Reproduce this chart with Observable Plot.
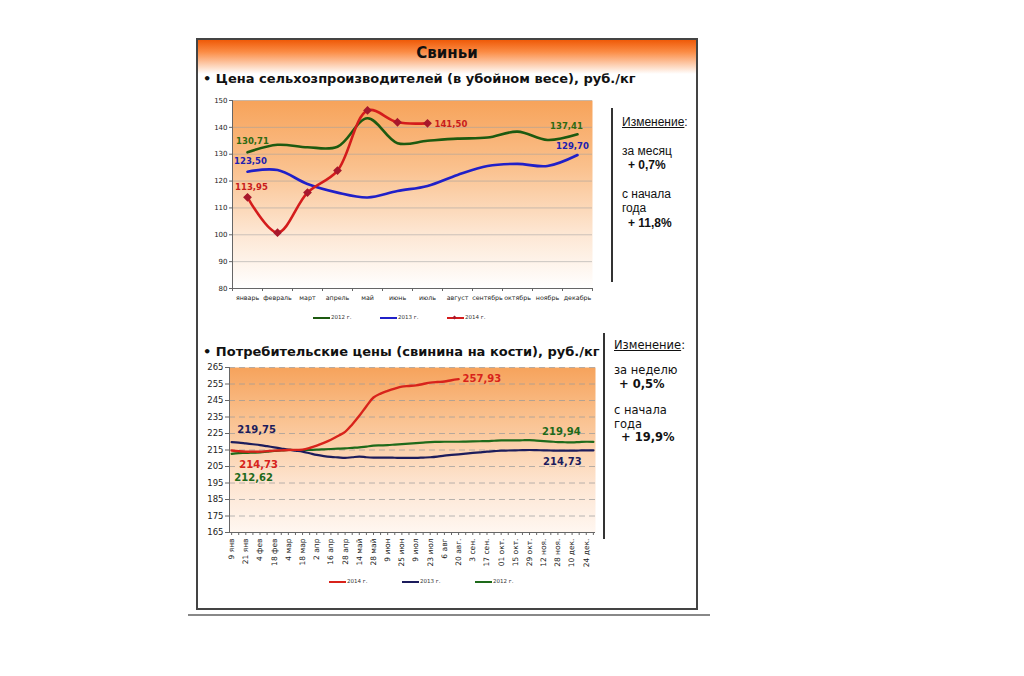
<!DOCTYPE html>
<html><head><meta charset="utf-8">
<script src="https://cdn.jsdelivr.net/npm/d3@7"></script>
<script src="https://cdn.jsdelivr.net/npm/@observablehq/plot@0.6"></script>
<style>
body{margin:0;background:#fff;width:1024px;height:676px;position:relative;overflow:hidden;font-family:"DejaVu Sans",sans-serif;color:#111;}
.abs{position:absolute;white-space:nowrap;}
#frame{left:196px;top:38px;width:502px;height:572px;border:2px solid #444;box-sizing:border-box;}
#hdr{left:198px;top:40px;width:498px;height:34px;background:linear-gradient(#ef5a08,#fb8c45 35%,#fff 100%);}
#title{left:198px;width:498px;top:44px;text-align:center;font-weight:bold;font-size:15px;}
.h{left:203px;font-weight:bold;font-size:13px;}
#bline{left:188px;top:614px;width:522px;height:2px;background:#888;}
.vl{width:2px;background:#333;}
.p1{font-family:"Liberation Sans",Arial,sans-serif;font-size:12px;}
.p2{font-family:"DejaVu Sans",sans-serif;font-size:11.5px;}
.leg{font-size:5.5px;font-family:"DejaVu Sans",sans-serif;color:#333;}
.lg{height:2px;}
</style></head>
<body>
<div id="frame" class="abs"></div>
<div id="hdr" class="abs"></div>
<div id="title" class="abs">Свиньи</div>
<div class="abs h" style="top:71px">• Цена сельхозпроизводителей (в убойном весе), руб./кг</div>
<div class="abs h" style="top:344px">• Потребительские цены (свинина на кости), руб./кг</div>
<div id="bline" class="abs"></div>

<div id="c1" class="abs" style="left:200px;top:92px"></div>
<div id="c2" class="abs" style="left:200px;top:358px"></div>

<div class="abs vl" style="left:611px;top:108px;height:174px"></div>
<div class="abs p1" style="left:622px;top:115px"><u>Изменение</u>:</div>
<div class="abs p1" style="left:622px;top:144px">за месяц</div>
<div class="abs p1" style="left:628px;top:158px;font-weight:bold">+ 0,7%</div>
<div class="abs p1" style="left:622px;top:187px">с начала</div>
<div class="abs p1" style="left:622px;top:201px">года</div>
<div class="abs p1" style="left:628px;top:216px;font-weight:bold">+ 11,8%</div>

<div class="abs vl" style="left:603px;top:333px;height:206px"></div>
<div class="abs p2" style="left:614px;top:338px"><u>Изменение</u>:</div>
<div class="abs p2" style="left:614px;top:363px">за неделю</div>
<div class="abs p2" style="left:619px;top:377px;font-weight:bold">+ 0,5%</div>
<div class="abs p2" style="left:614px;top:403px">с начала</div>
<div class="abs p2" style="left:614px;top:417px">года</div>
<div class="abs p2" style="left:621px;top:430px;font-weight:bold">+ 19,9%</div>

<div id="leg1"></div>
<div id="leg2"></div>

<script>
// ---------- Chart 1 data ----------
const months = ["январь","февраль","март","апрель","май","июнь","июль","август","сентябрь","октябрь","ноябрь","декабрь"];
const prod2012 = [130.71,133.5,132.6,132.8,143.4,134.1,135.0,135.8,136.2,138.4,135.3,137.41];
const prod2013 = [123.50,124.1,118.9,115.7,113.9,116.3,118.2,122.3,125.6,126.4,125.6,129.70];
const prod2014 = [113.95,100.8,115.7,123.9,146.3,141.9,141.50];
const yTicks1 = [80,90,100,110,120,130,140,150];

// ---------- Chart 2 data (weekly) ----------
const weekLabels = ["9 янв","21 янв","4 фев","18 фев","4 мар","18 мар","2 апр","16 апр","28 апр","14 май","28 май","9 июн","25 июн","9 июл","23 июл","6 авг","20 авг.","3 сен.","17 сен.","01 окт.","15 окт.","29 окт.","12 ноя.","28 ноя.","10 дек.","24 дек."];
const cons2014 = [214.73,214.3,214.0,214.0,214.0,214.3,214.6,214.8,215.0,215.1,215.2,216.2,217.6,219.3,221.2,223.5,226.0,230.5,235.7,241.5,246.8,249.2,250.8,252.2,253.4,253.8,254.2,255.0,255.8,256.2,256.5,257.3,257.93];
const cons2013 = [219.75,219.5,219.0,218.5,218.0,217.3,216.6,215.9,215.2,214.6,214.0,213.0,212.0,211.3,210.8,210.5,210.2,210.6,211.0,210.6,210.4,210.4,210.4,210.3,210.2,210.2,210.2,210.4,210.6,211.0,211.6,212.0,212.4,212.8,213.2,213.6,214.0,214.3,214.6,214.7,214.8,214.9,215.0,214.9,214.8,214.7,214.6,214.6,214.6,214.7,214.8,214.73];
const cons2012 = [212.62,213.1,213.2,213.4,213.6,214.0,214.4,214.7,215.0,215.0,215.0,215.1,215.2,215.4,215.6,215.8,216.0,216.3,216.6,217.1,217.6,217.8,218.0,218.3,218.6,218.9,219.2,219.5,219.8,219.9,220.0,220.0,220.0,220.1,220.2,220.3,220.4,220.6,220.8,220.8,220.8,220.9,221.0,220.7,220.4,220.1,219.8,219.7,219.6,219.8,220.0,219.94];
const yTicks2 = [165,175,185,195,205,215,225,235,245,255,265];

const fmt = v => v.toFixed(2).replace(".", ",");
const rows = arr => arr.map((v, i) => ({i, v}));

function addGrad(svg, id, stops) {
  const ns = "http://www.w3.org/2000/svg";
  const defs = document.createElementNS(ns, "defs");
  const lg = document.createElementNS(ns, "linearGradient");
  lg.setAttribute("id", id);
  lg.setAttribute("x1", "0"); lg.setAttribute("y1", "0");
  lg.setAttribute("x2", "0"); lg.setAttribute("y2", "1");
  for (const [o, c] of stops) {
    const s = document.createElementNS(ns, "stop");
    s.setAttribute("offset", o); s.setAttribute("stop-color", c);
    lg.appendChild(s);
  }
  defs.appendChild(lg);
  svg.insertBefore(defs, svg.firstChild);
}

// ---------- Chart 1 ----------
const d12 = rows(prod2012), d13 = rows(prod2013), d14 = rows(prod2014);
const c12 = "#1d5a10", c13 = "#2020c8", c14 = "#d41c1c";
const lab = (d, o) => Plot.text([d], {x: "i", y: "v", text: q => fmt(q.v), fontWeight: "bold", fontSize: 8.5, ...o});
const bounds1 = d3.range(13).map(i => i - 0.5);
const chart1 = Plot.plot({
  width: 400, height: 220, marginLeft: 32, marginRight: 8, marginTop: 8, marginBottom: 24,
  style: {background: "transparent", fontFamily: "DejaVu Sans, sans-serif", color: "#222", overflow: "visible"},
  x: {type: "linear", domain: [-0.5, 11.5], label: null},
  y: {type: "linear", domain: [80, 150], label: null},
  marks: [
    Plot.frame({fill: "url(#g1)"}),
    Plot.gridY(yTicks1, {stroke: "#a0a0a0", strokeOpacity: 0.55}),
    Plot.ruleY([80], {stroke: "#666"}),
    Plot.ruleX([-0.5], {stroke: "#666"}),
    Plot.ruleX(bounds1, {y1: 80, y2: 80, insetBottom: -3, stroke: "#666"}),
    Plot.axisY(yTicks1, {tickSize: 3, tickPadding: 2, fontSize: 7, stroke: "#666", label: null}),
    Plot.axisX(d3.range(12), {tickSize: 0, tickPadding: 7, tickFormat: i => months[i], fontSize: 6.3, label: null}),
    Plot.line(d13, {x: "i", y: "v", stroke: c13, strokeWidth: 2.6, curve: "catmull-rom"}),
    Plot.line(d12, {x: "i", y: "v", stroke: c12, strokeWidth: 2.6, curve: "catmull-rom"}),
    Plot.line(d14, {x: "i", y: "v", stroke: c14, strokeWidth: 2.6, curve: "catmull-rom"}),
    Plot.dot(d14, {x: "i", y: "v", symbol: "diamond2", fill: "#a8182c", stroke: "#a8182c", r: 3}),
    lab(d12[0], {fill: "#2f6a12", dx: 5, dy: -11}),
    lab(d13[0], {fill: "#2020b0", dx: 3, dy: -10}),
    lab(d14[0], {fill: "#c81c1c", dx: 4, dy: -10}),
    lab(d14[6], {fill: "#c81c1c", dx: 7, dy: 1, textAnchor: "start"}),
    lab(d12[11], {fill: "#2f6a12", dx: -11, dy: -8}),
    lab(d13[11], {fill: "#2020b0", dx: -5, dy: -9})
  ]
});
addGrad(chart1, "g1", [["0", "#f7a35a"], ["0.35", "#fac08c"], ["0.7", "#fde6d2"], ["1", "#ffffff"]]);
document.getElementById("c1").appendChild(chart1);

// ---------- Chart 2 ----------
const e14 = rows(cons2014), e13 = rows(cons2013), e12 = rows(cons2012);
const k14 = "#d8231b", k13 = "#1c1c5c", k12 = "#1e6a1a";
const lab2 = (d, o) => Plot.text([d], {x: "i", y: "v", text: q => fmt(q.v), fontWeight: "bold", fontSize: 10, ...o});
const chart2 = Plot.plot({
  width: 400, height: 216, marginLeft: 29, marginRight: 5, marginTop: 9, marginBottom: 42,
  style: {background: "transparent", fontFamily: "DejaVu Sans, sans-serif", color: "#222", overflow: "visible"},
  x: {type: "linear", domain: [-0.3, 51.3], label: null},
  y: {type: "linear", domain: [165, 265], label: null},
  marks: [
    Plot.frame({fill: "url(#g2)"}),
    Plot.gridY(yTicks2.slice(1), {stroke: "#9a9a9a", strokeOpacity: 0.7, strokeDasharray: "6,4"}),
    Plot.ruleY([165], {stroke: "#666"}),
    Plot.ruleX([-0.3], {stroke: "#666"}),
    Plot.axisY(yTicks2, {tickSize: 4, tickPadding: 2, fontSize: 8.5, stroke: "#666", label: null}),
    Plot.axisX(d3.range(52), {tickSize: 3, tickPadding: 3, tickRotate: -90, fontSize: 7.5, label: null,
      tickFormat: i => i % 2 ? "" : weekLabels[i / 2], stroke: "#666"}),
    Plot.line(e12, {x: "i", y: "v", stroke: k12, strokeWidth: 2.2, curve: "catmull-rom"}),
    Plot.line(e13, {x: "i", y: "v", stroke: k13, strokeWidth: 2.2, curve: "catmull-rom"}),
    Plot.line(e14, {x: "i", y: "v", stroke: k14, strokeWidth: 2.4, curve: "catmull-rom"}),
    lab2(e13[0], {fill: k13, dx: 25, dy: -12}),
    lab2(e14[0], {fill: k14, dx: 27, dy: 14}),
    lab2(e12[0], {fill: k12, dx: 22, dy: 24}),
    lab2(e14[32], {fill: k14, dx: 4, dy: 0, textAnchor: "start"}),
    lab2(e12[51], {fill: k12, dx: -32, dy: -10}),
    lab2(e13[51], {fill: k13, dx: -31, dy: 11})
  ]
});
addGrad(chart2, "g2", [["0", "#f6a35c"], ["0.35", "#fac596"], ["0.7", "#fde4d0"], ["1", "#fff7f1"]]);
document.getElementById("c2").appendChild(chart2);

// ---------- Legends ----------
function legend(el, items, top) {
  const host = document.getElementById(el);
  for (const [x, color, text, marker] of items) {
    const l = document.createElement("div");
    l.className = "abs lg"; l.style.left = x + "px"; l.style.top = top + "px";
    l.style.width = "17px"; l.style.background = color;
    host.appendChild(l);
    if (marker) {
      const m = document.createElement("div");
      m.className = "abs"; m.style.left = (x + 6) + "px"; m.style.top = (top - 1) + "px";
      m.style.width = "3px"; m.style.height = "3px"; m.style.background = "#a8182c"; m.style.transform = "rotate(45deg)";
      host.appendChild(m);
    }
    const t = document.createElement("div");
    t.className = "abs leg"; t.style.left = (x + 18) + "px"; t.style.top = (top - 3) + "px";
    t.textContent = text;
    host.appendChild(t);
  }
}
legend("leg1", [[313, c12, "2012 г."], [380, c13, "2013 г."], [447, c14, "2014 г.", true]], 317);
legend("leg2", [[329, k14, "2014 г."], [402, k13, "2013 г."], [475, k12, "2012 г."]], 581);
</script>
</body></html>
